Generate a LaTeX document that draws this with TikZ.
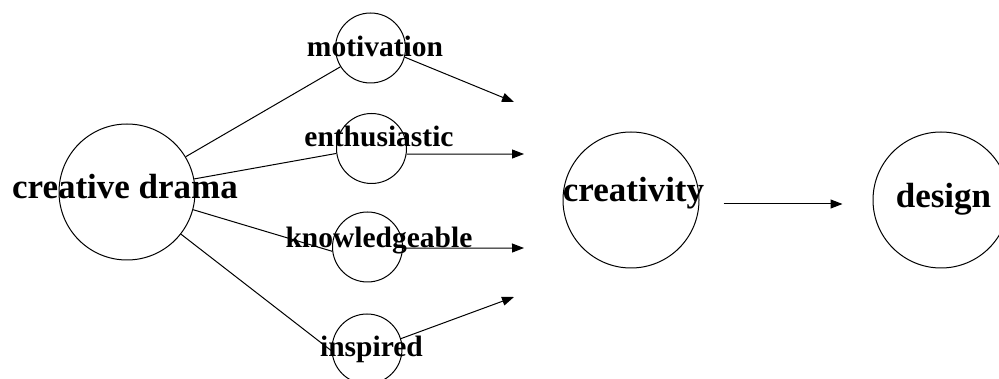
\documentclass[tikz,border=0pt]{standalone}
\usepackage{fontspec}
\setmainfont{Liberation Serif}
\usetikzlibrary{arrows.meta}
\begin{document}
\begin{tikzpicture}[x=1pt,y=-1pt, line width=1pt,
  bub/.style={draw, circle, inner sep=0pt, minimum size=70pt},
  bigbub/.style={draw, circle, inner sep=0pt, minimum size=136pt},
  lab/.style={anchor=base, inner sep=0pt, font=\bfseries\fontsize{29.5}{30}\selectfont},
  biglab/.style={anchor=base, inner sep=0pt, font=\bfseries\fontsize{35}{36}\selectfont},
  arr/.style={-{Triangle[length=12pt,width=9pt]}}]
\useasboundingbox (0,0) rectangle (999,379);
\clip (0,0) rectangle (999,379);
% circles
\node[bigbub] (drama) at (127,192) {};
\node[bub] (mot) at (370.5,48) {};
\node[bub] (ent) at (371.5,148.5) {};
\node[bub] (kno) at (367.5,247) {};
\node[bub] (ins) at (367,349) {};
\node[bigbub] (crea) at (631,200) {};
\node[bigbub] (des) at (941,200) {};
% labels
\node[biglab] (tdrama) at (125,199) {creative drama};
\node[lab] (tmot) at (375,57) {motivation};
\node[lab] (tent) at (379,147) {enthusiastic};
\node[lab] (tkno) at (379,248) {knowledgeable};
\node[lab] (tins) at (371.5,357) {inspired};
\node[biglab] (tcrea) at (633.5,202) {creativity};
\node[biglab] (tdes) at (943.5,208) {design};
% arrow tips (free ends)
\coordinate (tm) at (514,102);
\coordinate (te) at (524,154);
\coordinate (tk) at (524,248);
\coordinate (ti) at (514,297);
% connectors
\draw (drama.31) -- (mot.212);
\draw (drama.11) -- (ent.188);
\draw (drama.-15) -- (kno.187);
\draw (drama.-38) -- (ins.183);
\draw[arr] (mot.-15) -- (tm);
\draw[arr] (ent.-9) -- (te);
\draw[arr] (kno.-2) -- (tk);
\draw[arr] (ins.17) -- (ti);
\draw[arr, shorten <=24pt, shorten >=30pt] ([yshift=-4pt]crea.east) -- ([yshift=-4pt]des.west);
\end{tikzpicture}
\end{document}
